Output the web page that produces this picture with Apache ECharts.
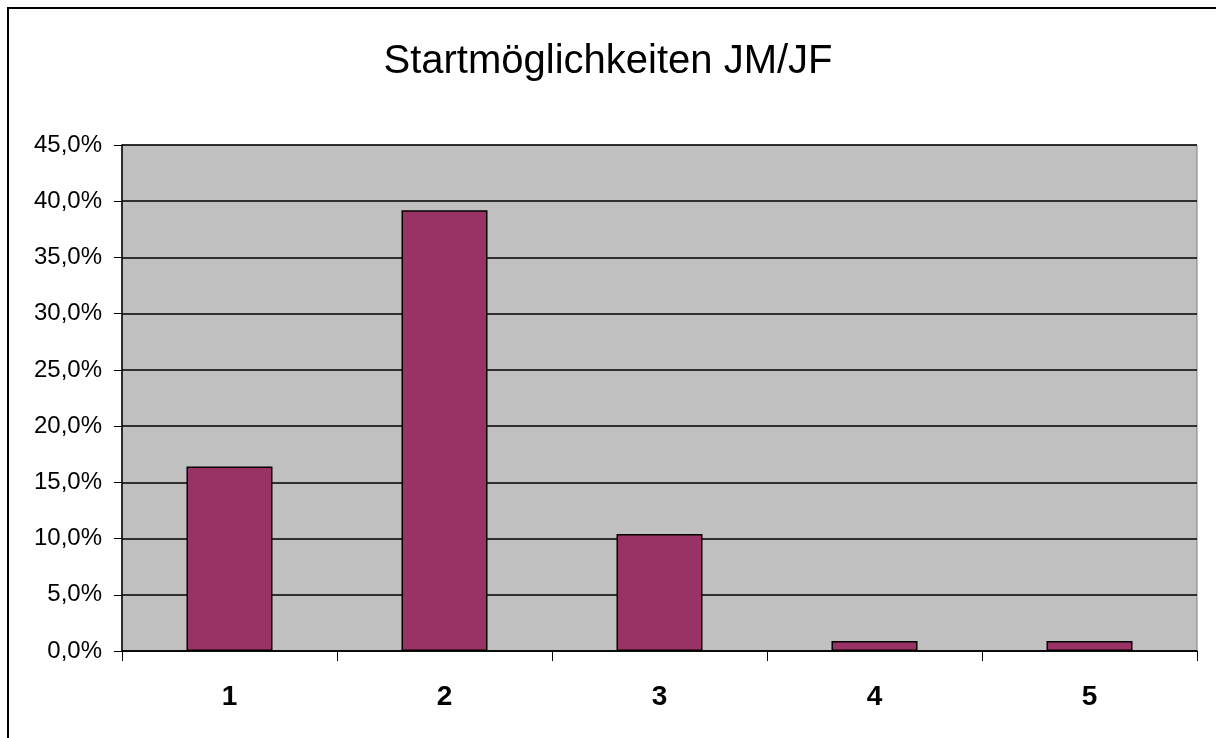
<!DOCTYPE html>
<html>
<head>
<meta charset="utf-8">
<script src="https://cdn.jsdelivr.net/npm/echarts@6/dist/echarts.min.js"></script>
<style>
  html, body { margin: 0; padding: 0; background: #ffffff; }
  #chart { width: 1216px; height: 738px; }
</style>
</head>
<body>
<div id="chart"></div>
<script>
const titleText = 'Startmöglichkeiten JM/JF';
const categories = ['1', '2', '3', '4', '5'];
const values = [16.4, 39.2, 10.4, 0.9, 0.9];
const yMin = 0;
const yMax = 45;
const yStep = 5;

const chart = echarts.init(document.getElementById('chart'), null, { renderer: 'canvas' });
chart.setOption({
  backgroundColor: '#ffffff',
  animation: false,
  title: {
    text: titleText,
    left: 'center',
    top: 37,
    textStyle: { fontFamily: 'Liberation Sans, Arial, sans-serif', fontSize: 40, fontWeight: 'normal', color: '#000' }
  },
  graphic: [{
    type: 'rect',
    shape: { x: 8, y: 8, width: 1400, height: 1000 },
    style: { fill: 'none', stroke: '#000', lineWidth: 2 },
    silent: true,
    z: 100
  }],
  grid: {
    left: 122, top: 145, right: 19, bottom: 87,
    show: true,
    backgroundColor: '#c0c0c0',
    borderColor: '#808080',
    borderWidth: 1
  },
  xAxis: {
    type: 'category',
    data: categories,
    axisLine: { show: true, lineStyle: { color: '#000', width: 1.5 } },
    axisTick: { show: true, alignWithLabel: false, length: 10, lineStyle: { color: '#000', width: 1 } },
    axisLabel: { margin: 32, fontFamily: 'Liberation Sans, Arial, sans-serif', fontSize: 28, fontWeight: 'bold', color: '#000' },
    splitLine: { show: false }
  },
  yAxis: {
    type: 'value',
    min: yMin,
    max: yMax,
    interval: yStep,
    axisLine: { show: true, lineStyle: { color: '#000', width: 1.5 } },
    axisTick: { show: true, length: 8, lineStyle: { color: '#000', width: 1 } },
    axisLabel: {
      margin: 20,
      padding: [7, 0, 0, 0],
      fontFamily: 'Liberation Sans, Arial, sans-serif',
      fontSize: 24,
      color: '#000',
      formatter: v => v.toFixed(1).replace('.', ',') + '%'
    },
    splitLine: { show: true, lineStyle: { color: '#000', width: 1.5 } }
  },
  series: [{
    type: 'bar',
    data: values,
    barWidth: '40%',
    itemStyle: { color: '#993366', borderColor: '#000', borderWidth: 1.5 }
  }]
});
</script>
</body>
</html>
